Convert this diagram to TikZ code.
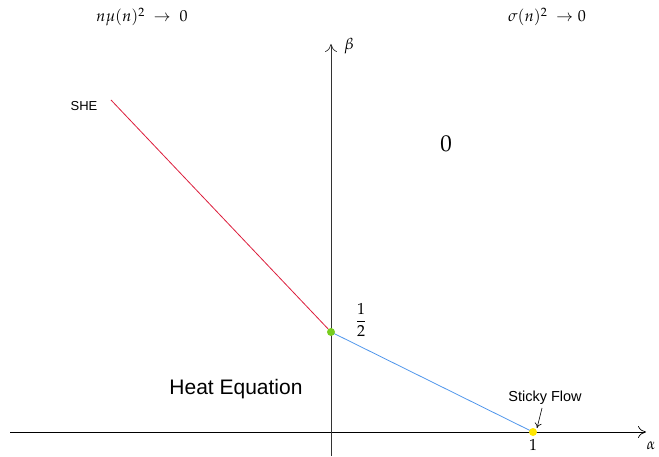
\documentclass[tikz,border=0pt]{standalone}
\usepackage{amsmath}
\usepackage{mathpazo}
\usepackage{fontspec}
\setsansfont{Liberation Sans}
\usetikzlibrary{arrows.meta}
\definecolor{redl}{RGB}{220,30,60}
\definecolor{bluel}{RGB}{80,150,235}
\definecolor{greenp}{RGB}{120,205,30}
\definecolor{yellowp}{RGB}{255,230,0}
\tikzset{
  axis/.style={line width=0.7pt,-{To[length=8pt,width=12pt]}},
  lab/.style={font=\sffamily\fontsize{13}{15}\selectfont,inner sep=0pt},
  mlab/.style={font=\fontsize{16}{19}\selectfont,inner sep=0pt},
  dotp/.style={circle,inner sep=0pt,minimum size=8pt}
}
\begin{document}
\begin{tikzpicture}[x=1pt,y=-1pt]
\useasboundingbox (0,0) rectangle (659,457);
\coordinate (xl) at (10,432);
\coordinate (xr) at (646,432);
\coordinate (yb) at (331,456);
\coordinate (yt) at (331,44);
\draw[axis,black] (xl) -- (xr);
\draw[axis,black!80] (yb) -- (yt);
\coordinate (she) at (111,100);
\coordinate (half) at (331,332);
\coordinate (one) at (533,432);
\draw[redl,line width=0.8pt] (she) -- (half);
\draw[bluel,line width=0.8pt] (half) -- (one);
\node[dotp,fill=greenp] (g) at (half) {};
\node[dotp,fill=yellowp] (y) at (one) {};
\node[mlab] (t1) at (142,17) {$n\mu(n)^2\;\rightarrow\;0$};
\node[mlab] (t2) at (547,17) {$\sigma(n)^2\;\rightarrow 0$};
\node[mlab] (beta) at (349,46) {$\beta$};
\node[mlab] (alpha) at (651,446) {$\alpha$};
\node[mlab] (lone) at (533,445) {$1$};
\node[mlab,font=\fontsize{23}{26}\selectfont] (zero) at (446,144) {$0$};
\node[mlab] (lhalf) at (361,320) {$\dfrac{1}{2}$};
\node[lab] (lshe) at (84,106) {SHE};
\node[lab,font=\sffamily\fontsize{21}{24}\selectfont] (heat) at (236,389) {Heat Equation};
\node[lab,font=\sffamily\fontsize{14.5}{17}\selectfont] (sticky) at (545,398) {Sticky Flow};
\coordinate (sa) at (542,408);
\draw[-{To[length=5pt,width=7pt]},line width=0.6pt] (sa) -- (537,428);
\end{tikzpicture}
\end{document}
